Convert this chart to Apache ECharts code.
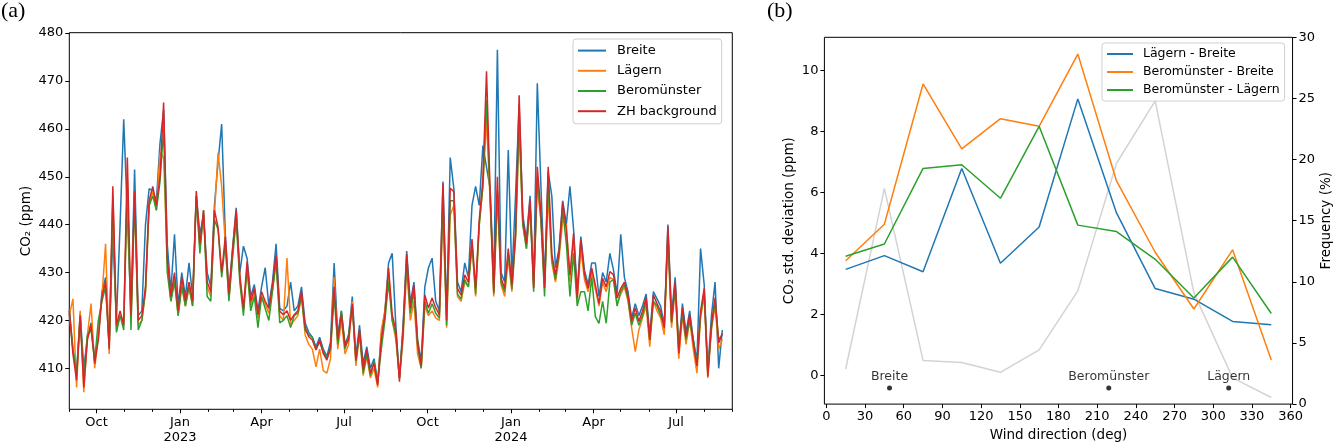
<!DOCTYPE html>
<html><head><meta charset="utf-8">
<script src="https://cdn.jsdelivr.net/npm/echarts@6/dist/echarts.min.js"></script>
<style>html,body{margin:0;padding:0;background:#fff}#c{width:1334px;height:447px}</style>
</head><body><div id="c"></div>
<script>
// ---------- Panel (a): daily CO2, sampled every STEP_DAYS from START_DATE ----------
const START_DATE = [2022, 8, 1];   // 2022-09-01 (month 0-based)
const STEP_DAYS = 4;
const X_MIN_DATE = [2022, 8, 1];
const X_MAX_DATE = [2024, 8, 1];

const zhBackground = [
422,413,407.5,421,406,416,419,411,416,425,
428,414,448,419,422,419,454,421,447,420,
421,427,445,448,444,450,465.5,433,425,430,
422,429,424,428,424,447,436,443,428,426,
443,439.5,430,437.5,425.5,434.7,443,429.5,422.5,432.3,
424,426.7,421.2,426,424,422.5,427.4,433.7,421.9,421.2,
422,420,421.2,422,426,418.6,416.6,415.9,413.8,415.9,
413.1,411.7,414.5,427,416,421.2,414.5,416,423.4,411.7,
418,409.7,413.8,409,411,406.5,416,421.2,431,421.2,
418,407.2,418,433.8,422.6,427.4,415.3,410.5,425.3,422.6,
424.7,422.6,421.2,448.6,420,447.6,446.9,426.7,425.3,429.5,
428,437,426.7,441,449.3,472,446.8,426,450,428.8,
426.7,435,427.4,438.2,467,441,436,445.3,426.7,452.1,
442.4,426.7,452.1,433.8,429.5,434.3,444.6,439,429.5,438.2,
424.7,436.9,429.5,426.7,430.9,427.4,423.5,428.8,427,430.2,
429.5,424.7,426.7,428,425.3,419.8,422.6,419.8,421.9,424.7,
415.9,425.3,423.5,421.9,418.4,439.6,419.8,428,413.1,422.6,
416.6,421.2,415.3,410.5,421.9,426.7,408.3,419.2,424.7,415.3,
417.3];

const breite = [
422.5,414,409,421.5,410,416.5,419.5,412,416.5,426,
429,415,438,420,440,462,442,422,451.5,421,
422,440,447.5,447,445,457,464,436,426,438,
423,430,425,432,425,446,438,442,430,427,
444,453,461,438,426,435,443.5,430,435.5,433,
425,427.5,422,427,431,423,428,436,422.5,422,
423,428,422,423,427,419.5,417.5,416.5,414.5,416.5,
414,412.5,415.5,432,417,422,415,417,425,412.5,
419,411,414.5,410,412,407,417,422,432,434,
419,408,419,434.5,423.5,428,416,411.5,427,431,
433,424,422,449,421,454,447.5,428,426,432,
429,444,448,444,456.5,452,447.5,428,476.5,430,
428,455.6,429,446,465,442,437,446,428,469.5,
448,428,451,446,431,435,445,440,448,439,
426,437.5,430.5,427.5,432,432,425,430,428,434,
430.5,425.5,438,429,426,420.5,423.5,421,423,425.5,
417,426,424.5,423,419,440,421,429,414,423.5,
417.5,422,416,411.5,435,427.5,409.5,421,428,410,
418];

const laegern = [
421,424.5,406,422,405,417,423.5,410,417,425,
436,413,446,418,421,420,448,420,445,419,
420,426,444,447,443,455,454,432,424,429,
421,428,423,427,423,446,435,442,427,425,
442,455,448,436,424.5,434,442,429,422,431,
423,426,420.5,425,423.5,421.5,426.5,432,421,420,
433,419,420,421,425,417,415,414,410.3,414,
409.5,409,412,429,414,420,413,415,424,410.5,
417,408.5,412.5,408,410,406,418,422,430,420,
416,408,416,431,420,424,413,410,423,421,
422,420.5,420,443,418.5,442,444,425,424,428,
427,436,425,440,448,462,445,425,446,427.5,
425,433,426,437,460,440,435,444,427,448,
441,427,446,432,428,433,441,440,428,437,
424,435,428.5,426,430,426.5,423,428,426,429,
428.5,423.5,425.5,427,424,418.5,413.5,418,420.5,423,
414.5,424,422,420.5,417,437,418.5,426.5,412,421,
415,420,414,409,420.5,425,408,418,423,414,
416];

const beromuenster = [
421.5,414,409,420.5,408,417,418,411.5,420,424,
427,414.5,445,417.5,421,418,449,418,446,418,
420,426,444,446,443,449,460,430,424,428,
421,427,423,427,423,446,434,443,425,424,
441,439,429,436,424,433,441,428,421,431,
422,425,418.5,425,422.5,420,426,432.5,419.5,420,
421,418.5,421,421.5,425,418,417,416.5,414,415.5,
413.5,412,414,425,415,422,414,417,423,411.5,
417.5,409,413,408.5,411.5,407,414,420,428,420,
417,408,417.5,432,421.5,426,415,410,424,421.5,
423.5,421.5,420.5,445,419,445,445,425.5,424.5,428.5,
427,436,425.5,440,448,466,445.5,425.5,447,428,
426,434,426.5,437.5,462,440,435,444,426,450,
441,425,449,433,428.5,434,443,436,425,434,
423,426,426,422,429,420.8,419.4,424,419.4,428,
428.5,423,426,427.5,424.5,419,421.5,419,421,424,
416,424,423,421,419,438,419.5,427,414.5,421.5,
416,420,416,410.5,421,426,409,418.5,424,416,
417];

const seriesNamesA = ['Breite', 'Lägern', 'Beromünster', 'ZH background'];
const seriesColorsA = ['#1f77b4', '#ff7f0e', '#2ca02c', '#d62728'];
const quarterTickDates = [[2022,9,1],[2023,0,1],[2023,3,1],[2023,6,1],[2023,9,1],[2024,0,1],[2024,3,1],[2024,6,1]];
const yTicksA = [410, 420, 430, 440, 450, 460, 470, 480];
const Y_RANGE_A = [401.44, 480.08];

// ---------- Panel (b): wind-direction dependence ----------
const windDir = [15, 45, 75, 105, 135, 165, 195, 225, 255, 285, 315, 345];
const laegernMinusBreite = [3.47, 3.92, 3.39, 6.78, 3.67, 4.86, 9.06, 5.32, 2.84, 2.49, 1.76, 1.65];
const beroMinusBreite = [3.75, 4.95, 9.55, 7.42, 8.41, 8.16, 10.53, 6.37, 4.03, 2.17, 4.11, 0.5];
const beroMinusLaegern = [3.9, 4.3, 6.78, 6.9, 5.8, 8.16, 4.92, 4.71, 3.8, 2.53, 3.87, 2.02];
const windFreq = [2.87, 17.65, 3.57, 3.4, 2.6, 4.43, 9.26, 19.7, 24.8, 9.1, 2.15, 0.54];
const seriesNamesB = ['Lägern - Breite', 'Beromünster - Breite', 'Beromünster - Lägern'];
const stationNames = ['Breite', 'Beromünster', 'Lägern'];
const stationDir = [49, 219, 312];
const stationLevel = [-0.42, -0.42, -0.42];
const xTicksB = [0, 30, 60, 90, 120, 150, 180, 210, 240, 270, 300, 330, 360];
const yTicksB = [0, 2, 4, 6, 8, 10];
const X_RANGE_B = [-1.5, 361.5];
const Y_RANGE_B = [-0.95, 11.08];
const Y_RANGE_FREQ = [0, 30];

// ---------- build ----------
const DAY = 86400000;
const ts = a => Date.UTC(a[0], a[1], a[2]);
const t0 = ts(START_DATE);
const pairs = vals => vals.map((v, i) => [t0 + i * STEP_DAYS * DAY, v]);
const quarterTicks = quarterTickDates.map(ts);
const monthTicks = [];
for (let y = 2022, m = 8; y < 2024 || (y === 2024 && m <= 8); ) {
  monthTicks.push(Date.UTC(y, m, 1));
  m++; if (m > 11) { m = 0; y++; }
}
const MONTHS = ['Jan','Feb','Mar','Apr','May','Jun','Jul','Aug','Sep','Oct','Nov','Dec'];

const FONT = '"DejaVu Sans", sans-serif';
const TXT = { fontFamily: FONT, fontSize: 13, color: '#000' };
const NAME_TXT = { fontFamily: FONT, fontSize: 13.5, color: '#000' };
const SMALL_TXT = { fontFamily: FONT, fontSize: 12.5, color: '#000' };
const tickStyle = { color: '#000', width: 1 };
const noLine = { show: false, onZero: false };

const valuesA = [breite, laegern, beromuenster, zhBackground];

const chart = echarts.init(document.getElementById('c'), null, { renderer: 'canvas' });
chart.setOption({
  animation: false,
  backgroundColor: '#fff',
  textStyle: { fontFamily: FONT },
  graphic: [
    { type: 'text', left: 1, top: 0, style: { text: '(a)', font: '22px "Liberation Serif", serif', fill: '#000' } },
    { type: 'text', left: 767, top: 0, style: { text: '(b)', font: '22px "Liberation Serif", serif', fill: '#000' } }
  ],
  grid: [
    { left: 69.3, top: 32.7, width: 663, height: 376.6, show: true, borderColor: '#000', borderWidth: 1, backgroundColor: 'transparent' },
    { left: 824.4, top: 37.3, width: 468.6, height: 372.7, show: true, borderColor: '#000', borderWidth: 1, backgroundColor: 'transparent' }
  ],
  legend: [
    {
      data: seriesNamesA, orient: 'vertical', left: 573, top: 39,
      padding: [4, 5, 5, 5], itemGap: 5, itemWidth: 28, itemHeight: 2, icon: 'rect',
      textStyle: Object.assign({}, TXT, { lineHeight: 15.2, padding: [0, 0, 0, 6] }),
      borderColor: '#d0d0d0', borderWidth: 1, borderRadius: 3, backgroundColor: 'rgba(255,255,255,0.8)',
      selectedMode: false
    },
    {
      data: seriesNamesB, orient: 'vertical', left: 1102, top: 43,
      padding: [4, 5, 4, 5], itemGap: 4, itemWidth: 26, itemHeight: 2, icon: 'rect',
      textStyle: Object.assign({}, SMALL_TXT, { lineHeight: 14, padding: [0, 0, 0, 5] }),
      borderColor: '#d0d0d0', borderWidth: 1, borderRadius: 3, backgroundColor: 'rgba(255,255,255,0.8)',
      selectedMode: false
    }
  ],
  xAxis: [
    {
      type: 'value', gridIndex: 0, position: 'bottom', min: ts(X_MIN_DATE), max: ts(X_MAX_DATE),
      axisLine: noLine, splitLine: { show: false },
      axisTick: { show: true, customValues: quarterTicks, length: 4, lineStyle: tickStyle },
      axisLabel: Object.assign({}, TXT, {
        customValues: quarterTicks, margin: 6, lineHeight: 15, hideOverlap: false,
        formatter: v => { const d = new Date(v); const m = d.getUTCMonth(); return m === 0 ? 'Jan\n' + d.getUTCFullYear() : MONTHS[m]; }
      })
    },
    {
      type: 'value', gridIndex: 0, position: 'bottom', min: ts(X_MIN_DATE), max: ts(X_MAX_DATE),
      axisLine: noLine, splitLine: { show: false }, axisLabel: { show: false },
      axisTick: { show: true, customValues: monthTicks, length: 2.5, lineStyle: tickStyle }
    },
    {
      type: 'value', gridIndex: 1, position: 'bottom', min: X_RANGE_B[0], max: X_RANGE_B[1],
      axisLine: noLine, splitLine: { show: false },
      axisTick: { show: true, customValues: xTicksB, length: 4, lineStyle: tickStyle },
      axisLabel: Object.assign({}, TXT, { customValues: xTicksB, margin: 6, hideOverlap: false }),
      name: 'Wind direction (deg)', nameLocation: 'middle', nameGap: 21, nameTextStyle: NAME_TXT
    }
  ],
  yAxis: [
    {
      type: 'value', gridIndex: 0, position: 'left', min: Y_RANGE_A[0], max: Y_RANGE_A[1],
      axisLine: noLine, splitLine: { show: false },
      axisTick: { show: true, customValues: yTicksA, length: 4, lineStyle: tickStyle },
      axisLabel: Object.assign({}, TXT, { customValues: yTicksA, margin: 6, hideOverlap: false }),
      name: 'CO₂ (ppm)', nameLocation: 'middle', nameGap: 36, nameRotate: 90, nameTextStyle: NAME_TXT
    },
    {
      type: 'value', gridIndex: 1, position: 'left', min: Y_RANGE_B[0], max: Y_RANGE_B[1],
      axisLine: noLine, splitLine: { show: false },
      axisTick: { show: true, customValues: yTicksB, length: 4, lineStyle: tickStyle },
      axisLabel: Object.assign({}, TXT, { customValues: yTicksB, margin: 6, hideOverlap: false }),
      name: 'CO₂ std. deviation (ppm)', nameLocation: 'middle', nameGap: 28, nameRotate: 90, nameTextStyle: NAME_TXT
    },
    {
      type: 'value', gridIndex: 1, position: 'right', min: Y_RANGE_FREQ[0], max: Y_RANGE_FREQ[1], interval: 5,
      axisLine: noLine, splitLine: { show: false },
      axisTick: { show: true, length: 4, lineStyle: tickStyle },
      axisLabel: Object.assign({}, TXT, { margin: 6 }),
      name: 'Frequency (%)', nameLocation: 'middle', nameGap: 26, nameRotate: 90, nameTextStyle: NAME_TXT
    }
  ],
  series: [].concat(
    valuesA.map((vals, i) => ({
      name: seriesNamesA[i], type: 'line', xAxisIndex: 0, yAxisIndex: 0,
      data: pairs(vals), symbol: 'none', showSymbol: false,
      lineStyle: { width: 1.5, color: seriesColorsA[i] }, itemStyle: { color: seriesColorsA[i] },
      z: 2 + i
    })),
    [{
      name: 'Frequency', type: 'line', xAxisIndex: 2, yAxisIndex: 2,
      data: windDir.map((d, i) => [d, windFreq[i]]), symbol: 'none',
      lineStyle: { width: 1.5, color: '#d3d3d3' }, itemStyle: { color: '#d3d3d3' }, z: 1
    }],
    [laegernMinusBreite, beroMinusBreite, beroMinusLaegern].map((vals, i) => ({
      name: seriesNamesB[i], type: 'line', xAxisIndex: 2, yAxisIndex: 1,
      data: windDir.map((d, j) => [d, vals[j]]), symbol: 'none',
      lineStyle: { width: 1.5, color: seriesColorsA[i] }, itemStyle: { color: seriesColorsA[i] },
      z: 2 + i
    })),
    [{
      name: 'Stations', type: 'scatter', xAxisIndex: 2, yAxisIndex: 1,
      data: stationDir.map((d, i) => ({ value: [d, stationLevel[i]], name: stationNames[i] })),
      symbol: 'circle', symbolSize: 5, itemStyle: { color: '#000' },
      label: Object.assign({}, SMALL_TXT, { show: true, position: 'top', distance: 2, formatter: '{b}' }),
      z: 6
    }]
  )
});
</script>
</body></html>
